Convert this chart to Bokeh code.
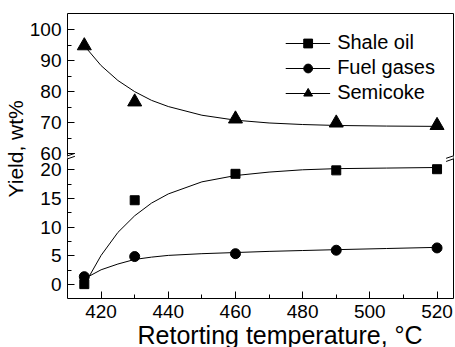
from bokeh.plotting import figure
from bokeh.models import (Range1d, LinearAxis, FixedTicker, BoxAnnotation, Arrow,
                          Legend, LegendItem, Title)
from bokeh.embed import file_html
from bokeh.resources import INLINE

# ---- data ----
temps = [415, 430, 460, 490, 520]
shale_oil = [0.1, 14.7, 19.3, 19.9, 20.1]
fuel_gases = [1.4, 4.9, 5.4, 6.0, 6.4]
semicoke = [94.8, 76.7, 71.2, 69.9, 69.1]

fit_t_semicoke = [415, 420, 425, 430, 435, 440, 450, 460, 470, 480, 490, 505, 520]
fit_semicoke = [94.8, 88.4, 83.6, 80.0, 77.2, 75.2, 72.4, 70.8, 69.9, 69.4, 69.1, 68.9, 68.8]
fit_t_low = [416.5, 420, 425, 430, 435, 440, 450, 460, 470, 480, 490, 505, 520]
fit_shale = [1.5, 5.1, 9.1, 12.0, 14.2, 15.8, 17.9, 19.0, 19.6, 20.0, 20.2, 20.3, 20.4]
fit_fuel = [1.5, 2.6, 3.6, 4.4, 4.8, 5.1, 5.4, 5.6, 5.8, 5.95, 6.1, 6.3, 6.5]

x_ticks = [420, 440, 460, 480, 500, 520]
x_minor = [430, 450, 470, 490, 510]
low_ticks = [0, 5, 10, 15, 20]
low_minor = [2.5, 7.5, 12.5, 17.5]
up_ticks = [60, 70, 80, 90, 100]
up_minor = [65, 75, 85, 95]

x_title = "Retorting temperature, °C"
y_title = "Yield, wt%"

X_RANGE = (410.0, 524.9)
LOW_RANGE = (-2.4, 47.2)
UP_RANGE = (13.3, 105.2)
LOW_TOP = 21.9     # top end of the lower axis segment
UP_BOTTOM = 59.3   # bottom end of the upper axis segment

FONT = "Liberation Sans"


def to_low(u):
    return LOW_RANGE[0] + (u - UP_RANGE[0]) * (LOW_RANGE[1] - LOW_RANGE[0]) / (UP_RANGE[1] - UP_RANGE[0])


p = figure(width=455, height=347, x_range=Range1d(*X_RANGE), y_range=Range1d(*LOW_RANGE),
           x_axis_type=None, y_axis_type=None, output_backend="svg", toolbar_location=None,
           min_border_left=67, min_border_right=2, min_border_top=13, min_border_bottom=49)
p.extra_y_ranges = {"upper": Range1d(*UP_RANGE)}
p.outline_line_color = None
p.background_fill_color = "white"
p.border_fill_color = "white"


def style(ax):
    ax.axis_line_color = "black"
    ax.axis_line_width = 1
    ax.major_tick_line_color = "black"
    ax.minor_tick_line_color = "black"
    ax.major_tick_in = 7
    ax.major_tick_out = 0
    ax.minor_tick_in = 4
    ax.minor_tick_out = 0
    ax.major_label_text_font = FONT
    ax.major_label_text_font_size = "19px"
    ax.major_label_text_color = "black"
    ax.major_label_standoff = 6


overrides = {float(v): str(v) for v in low_ticks}
overrides.update({to_low(u): str(u) for u in up_ticks})
left = LinearAxis(ticker=FixedTicker(ticks=[float(v) for v in low_ticks] + [to_low(u) for u in up_ticks],
                                     minor_ticks=low_minor + [to_low(u) for u in up_minor]),
                  major_label_overrides=overrides)
style(left)
p.add_layout(left, "left")

bottom = LinearAxis(ticker=FixedTicker(ticks=x_ticks, minor_ticks=x_minor))
style(bottom)
p.add_layout(bottom, "below")

for side in ("right", "above"):
    ax = LinearAxis(ticker=FixedTicker(ticks=[]))
    style(ax)
    ax.major_tick_line_color = None
    ax.minor_tick_line_color = None
    ax.major_label_text_font_size = "0px"
    p.add_layout(ax, side)

# axis titles
p.add_layout(Title(text=x_title, align="left", offset=70, standoff=-4, text_font=FONT,
                   text_font_size="25px", text_font_style="normal", text_color="black"), "below")
p.add_layout(Title(text=y_title, align="left", offset=101, standoff=0, text_font=FONT,
                   text_font_size="21px", text_font_style="normal", text_color="black"), "left")

# fitted curves
f_oil = p.line(fit_t_low, fit_shale, line_color="black", line_width=1)
f_gas = p.line(fit_t_low, fit_fuel, line_color="black", line_width=1)
f_coke = p.line(fit_t_semicoke, fit_semicoke, line_color="black", line_width=1, y_range_name="upper")

# measured points
r_oil = p.scatter(temps, shale_oil, marker="square", size=9, color="black")
r_gas = p.scatter(temps, fuel_gases, marker="circle", size=10, color="black")
r_coke = p.scatter(temps, semicoke, marker="triangle", size=14, color="black", y_range_name="upper")

legend = Legend(items=[LegendItem(label="Shale oil", renderers=[f_oil, r_oil]),
                       LegendItem(label="Fuel gases", renderers=[f_gas, r_gas]),
                       LegendItem(label="Semicoke", renderers=[f_coke, r_coke])],
                location="top_right", border_line_color=None, background_fill_alpha=0,
                label_text_font=FONT, label_text_font_size="20px", label_text_color="black",
                glyph_width=45, glyph_height=22, label_height=22, spacing=2,
                label_standoff=7, padding=0, margin=18)
p.add_layout(legend)

# axis break: gap in the frame lines plus slanted marks
for xe in X_RANGE:
    p.add_layout(BoxAnnotation(left=xe - 0.6, right=xe + 0.6, bottom=LOW_TOP, top=to_low(UP_BOTTOM),
                               fill_color="white", fill_alpha=1, line_color=None))
    p.add_layout(Arrow(x_start=xe - 2.2, y_start=LOW_TOP - 0.45, x_end=xe + 2.2, y_end=LOW_TOP + 0.45,
                       end=None, line_color="black", line_width=1))
    p.add_layout(Arrow(x_start=xe - 2.2, y_start=UP_BOTTOM - 0.8, x_end=xe + 2.2, y_end=UP_BOTTOM + 0.8,
                       end=None, line_color="black", line_width=1, y_range_name="upper"))

open("out.html", "w").write(file_html(p, INLINE))
